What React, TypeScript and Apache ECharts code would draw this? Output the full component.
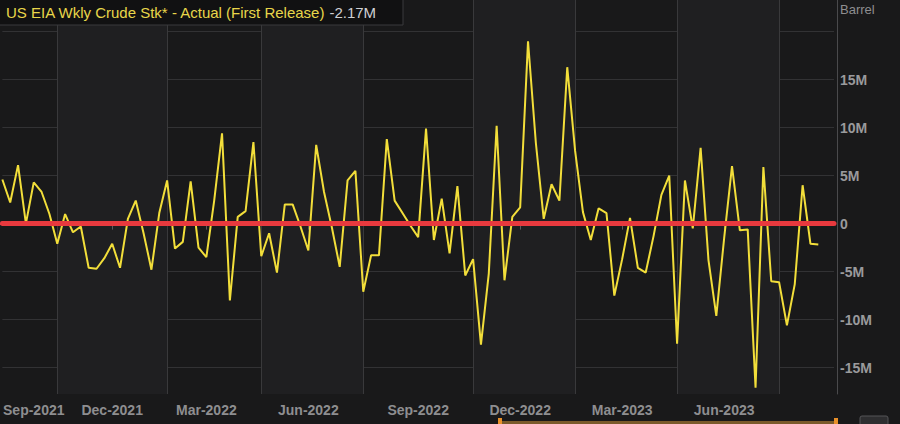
import React, { useEffect, useRef } from 'react';
import * as echarts from 'echarts';

const seriesName = 'US EIA Wkly Crude Stk* - Actual (First Release)';
const unitName = 'Barrel';

// weekly changes, millions of barrels, first release, from 2021-09-29
const values = [
  4.6, 2.2, 6.1, 0.0, 4.3, 3.3, 1.0, -2.1, 1.0, -0.9,
  -0.3, -4.6, -4.7, -3.6, -2.1, -4.6, 0.5, 2.4, -1.0, -4.8,
  1.1, 4.5, -2.6, -1.9, 4.4, -2.5, -3.5, 2.4, 9.4, -8.0,
  0.7, 1.3, 8.5, -3.4, -1.0, -5.1, 2.0, 2.0, -0.3, -2.8,
  8.2, 3.3, -0.4, -4.5, 4.5, 5.5, -7.1, -3.3, -3.3, 8.8,
  2.4, 1.1, -0.2, -1.4, 9.9, -1.7, 2.6, -3.1, 3.9, -5.4,
  -3.7, -12.6, -5.2, 10.2, -5.9, 0.7, 1.7, 19.0, 8.4, 0.5,
  4.1, 2.4, 16.3, 7.6, 1.2, -1.7, 1.6, 1.1, -7.5, -3.7,
  0.6, -4.6, -5.1, -1.3, 3.0, 5.0, -12.5, 4.5, -0.5, 7.9,
  -3.8, -9.6, -1.5, 6.0, -0.7, -0.6, -17.1, 5.9, -6.0, -6.1,
  -10.6, -6.3, 4.0, -2.1, -2.17,
];

const firstWeek = '2021-09-29';
const weekCount = 107;

const tickDates = ['2022-01-05', '2022-03-30', '2022-06-29', '2022-10-05', '2023-01-04', '2023-04-05', '2023-07-05'];
const tickLabels = ['Dec-2021', 'Mar-2022', 'Jun-2022', 'Sep-2022', 'Dec-2022', 'Mar-2023', 'Jun-2023'];
const labelDates = ['2021-10-27', ...tickDates];
const labelTexts = ['Sep-2021', ...tickLabels];
const bandDates = ['2021-11-17', '2022-02-23', '2022-05-18', '2022-08-17', '2022-11-23', '2023-02-22', '2023-05-24', '2023-08-23'];

const yLabelValues = [-15, -10, -5, 0, 5, 10, 15];
const yGridValues = [-15, -10, -5, 0, 5, 10, 15, 20];
const yMin = -17.75;
const yMax = 23.3;

function weeklyDates(start: string, n: number): string[] {
  const base = new Date(start + 'T00:00:00Z').getTime();
  const out: string[] = [];
  for (let i = 0; i < n; i++) {
    out.push(new Date(base + i * 7 * 86400000).toISOString().slice(0, 10));
  }
  return out;
}

export default function App() {
  const ref = useRef<HTMLDivElement>(null);

  useEffect(() => {
    if (!ref.current) return;
    const chart = echarts.init(ref.current, undefined, { renderer: 'svg' });
    const categories = weeklyDates(firstWeek, weekCount);
    const lastValue = values[values.length - 1];
    const lastText = `${lastValue.toFixed(2)}M`;
    const font = 'Liberation Sans, Arial, sans-serif';

    chart.setOption({
      animation: false,
      backgroundColor: '#19191a',
      textStyle: { fontFamily: font },
      grid: { left: -4, right: 66, top: 0, bottom: 30, containLabel: false },
      xAxis: {
        type: 'category',
        data: categories,
        boundaryGap: false,
        axisLine: { lineStyle: { color: '#4a4a4c', width: 1 } },
        axisTick: {
          show: true,
          length: 6,
          interval: (_i: number, v: string) => tickDates.indexOf(v) >= 0,
          lineStyle: { color: '#5a5a5c' },
        },
        axisLabel: {
          interval: (_i: number, v: string) => labelDates.indexOf(v) >= 0,
          formatter: (v: string) => labelTexts[labelDates.indexOf(v)] ?? '',
          color: '#8e8e90',
          fontSize: 14,
          fontWeight: 'bold',
          margin: 9,
          fontFamily: font,
        },
        splitLine: {
          show: true,
          interval: (_i: number, v: string) => bandDates.indexOf(v) >= 0,
          lineStyle: { color: '#39393b', width: 1 },
        },
        splitArea: {
          show: true,
          interval: (_i: number, v: string) => bandDates.indexOf(v) >= 0,
          areaStyle: { color: ['#1f1f21', 'rgba(0,0,0,0)'] },
        },
      },
      yAxis: {
        type: 'value',
        position: 'right',
        offset: 3,
        min: yMin,
        max: yMax,
        axisLine: { show: true, lineStyle: { color: '#4a4a4c' } },
        axisTick: { show: false, customValues: yGridValues },
        axisLabel: {
          customValues: yLabelValues,
          formatter: (v: number) => (v === 0 ? '0' : `${v}M`),
          color: '#9a9a9c',
          fontSize: 14,
          fontWeight: 'bold',
          margin: 3,
          fontFamily: font,
        },
        splitLine: { show: true, lineStyle: { color: '#323234', width: 1 } },
      },
      series: [
        {
          name: seriesName,
          type: 'line',
          data: values,
          showSymbol: false,
          symbol: 'none',
          lineStyle: { color: '#f2de3a', width: 2 },
          itemStyle: { color: '#f2de3a' },
          markLine: {
            silent: true,
            symbol: ['none', 'none'],
            data: [
              {
                yAxis: 0,
                lineStyle: { color: '#e8393e', width: 5, type: 'solid', cap: 'round' },
                label: { show: false },
              },
              {
                yAxis: lastValue,
                lineStyle: { opacity: 0 },
                label: {
                  show: true,
                  position: 'end',
                  distance: 4,
                  formatter: lastText,
                  backgroundColor: '#f3e44a',
                  color: '#1a1a1a',
                  fontSize: 14,
                  fontFamily: font,
                  padding: [2, 5, 1, 4],
                },
              },
            ],
          },
        },
      ],
      graphic: [
        {
          type: 'rect',
          shape: { x: -1, y: -1, width: 404, height: 26 },
          style: { fill: '#111112', stroke: '#3a3a3c', lineWidth: 1 },
          z: 100,
        },
        {
          type: 'text',
          x: 6,
          y: 12,
          z: 101,
          style: {
            text: `{a|${seriesName}} {b|${lastText}}`,
            verticalAlign: 'middle',
            rich: {
              a: { fill: '#e8d64a', fontSize: 15, fontFamily: font },
              b: { fill: '#cfcfd2', fontSize: 15, fontFamily: font },
            },
          },
        },
        {
          type: 'text',
          x: 840,
          y: 9,
          z: 101,
          style: {
            text: unitName,
            fill: '#8e8e90',
            fontSize: 13,
            fontFamily: font,
            verticalAlign: 'middle',
          },
        },
        {
          type: 'rect',
          shape: { x: 500, y: 421, width: 336, height: 3 },
          style: { fill: '#7a5a2a' },
          z: 100,
        },
        {
          type: 'rect',
          shape: { x: 498, y: 418, width: 4, height: 6 },
          style: { fill: '#e8902a' },
          z: 101,
        },
        {
          type: 'rect',
          shape: { x: 834, y: 418, width: 4, height: 6 },
          style: { fill: '#e8902a' },
          z: 101,
        },
        {
          type: 'rect',
          shape: { x: 860, y: 416, width: 28, height: 10, r: 2 },
          style: { fill: '#2e2e30', stroke: '#555557', lineWidth: 1 },
          z: 101,
        },
      ],
    });

    return () => chart.dispose();
  }, []);

  return (
    <div
      ref={ref}
      style={{ position: 'fixed', left: 0, top: 0, width: 900, height: 424 }}
    />
  );
}
